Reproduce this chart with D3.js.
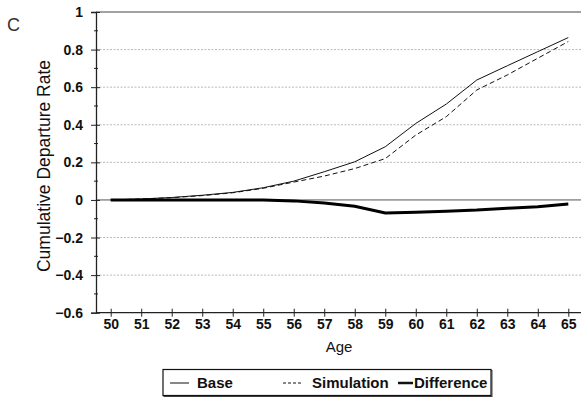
<!DOCTYPE html>
<html>
<head>
<meta charset="utf-8">
<script src="https://cdn.jsdelivr.net/npm/d3@7"></script>
<style>
  body { margin: 0; background: #fff; }
  svg { display: block; font-family: "Liberation Sans", Arial, sans-serif; }
</style>
</head>
<body>
<div id="chart"></div>
<script>
// ages on the x axis
var ages = [50, 51, 52, 53, 54, 55, 56, 57, 58, 59, 60, 61, 62, 63, 64, 65];
// series
var base = [0, 0.005, 0.013, 0.025, 0.04, 0.065, 0.1, 0.15, 0.203, 0.283, 0.407, 0.51, 0.638, 0.714, 0.789, 0.864];
var simulation = [0, 0.005, 0.012, 0.023, 0.038, 0.062, 0.095, 0.127, 0.167, 0.22, 0.345, 0.443, 0.585, 0.665, 0.754, 0.843];
var difference = [0, 0, 0, 0, 0, 0, -0.005, -0.016, -0.034, -0.069, -0.065, -0.06, -0.054, -0.044, -0.036, -0.022];
var yTicks = [-0.6, -0.4, -0.2, 0, 0.2, 0.4, 0.6, 0.8, 1];
var yMinor = [-0.5, -0.3, -0.1, 0.1, 0.3, 0.5, 0.7, 0.9];
var gridValues = [-0.4, -0.2, 0.2, 0.4, 0.6, 0.8];

var W = 581, H = 398;
var margin = { top: 12, right: 0, bottom: 85, left: 96 };

var svg = d3.select("#chart").append("svg")
    .attr("width", W)
    .attr("height", H);

// x is a point scale, half a step of padding on each side
var x = d3.scalePoint()
    .domain(ages)
    .range([110.7, 568.3]);

var y = d3.scaleLinear()
    .domain([-0.6, 1])
    .range([312.7, 12]);

// gridlines
svg.append("g")
    .selectAll("line")
    .data(gridValues)
    .enter().append("line")
    .attr("x1", margin.left)
    .attr("x2", W)
    .attr("y1", d => y(d))
    .attr("y2", d => y(d))
    .attr("stroke", "#a8a8a8")
    .attr("stroke-width", 0.8)
    .attr("stroke-dasharray", "2,1.5");

// zero line and top border
svg.append("line")
    .attr("x1", margin.left).attr("x2", W)
    .attr("y1", y(0)).attr("y2", y(0))
    .attr("stroke", "#555").attr("stroke-width", 1);
svg.append("line")
    .attr("x1", margin.left).attr("x2", W)
    .attr("y1", y(1)).attr("y2", y(1))
    .attr("stroke", "#444").attr("stroke-width", 1);

// Y axis, ticks crossing the line
var yAxis = svg.append("g")
    .attr("transform", "translate(" + margin.left + ",0)")
    .call(d3.axisLeft(y).tickValues(yTicks).tickSize(5)
        .tickFormat(d => d3.format("")(+d.toFixed(1))));
yAxis.select(".domain").attr("stroke", "#222").attr("stroke-width", 1.3);
yAxis.selectAll(".tick line").attr("x2", 4).attr("x1", -5).attr("stroke", "#222");
yAxis.selectAll(".tick text")
    .attr("x", -13)
    .style("font-size", "14px")
    .style("font-weight", "bold")
    .attr("fill", "#111");

svg.append("g")
    .selectAll("line")
    .data(yMinor)
    .enter().append("line")
    .attr("x1", margin.left - 2)
    .attr("x2", margin.left + 2)
    .attr("y1", d => y(d))
    .attr("y2", d => y(d))
    .attr("stroke", "#222");

// X axis
var xAxis = svg.append("g")
    .attr("transform", "translate(0," + y(-0.6) + ")")
    .call(d3.axisBottom(x).tickSize(5).tickSizeOuter(0));
xAxis.select(".domain").attr("d", "M" + margin.left + ",0H" + W).attr("stroke", "#222").attr("stroke-width", 1.3);
xAxis.selectAll(".tick line").attr("y1", -4).attr("y2", 4).attr("stroke", "#222");
xAxis.selectAll(".tick text")
    .attr("y", 6)
    .style("font-size", "14px")
    .style("font-weight", "bold")
    .attr("fill", "#111");

// lines
var line = d3.line()
    .x((d, i) => x(ages[i]))
    .y(d => y(d));

svg.append("path").datum(base)
    .attr("fill", "none").attr("stroke", "#111").attr("stroke-width", 1)
    .attr("d", line);
svg.append("path").datum(simulation)
    .attr("fill", "none").attr("stroke", "#111").attr("stroke-width", 1)
    .attr("stroke-dasharray", "5,3")
    .attr("d", line);
svg.append("path").datum(difference)
    .attr("fill", "none").attr("stroke", "#000").attr("stroke-width", 3)
    .attr("d", line);

// axis titles
svg.append("text")
    .attr("transform", "translate(50,166) rotate(-90)")
    .style("text-anchor", "middle")
    .style("font-size", "17.5px")
    .attr("fill", "#111")
    .text("Cumulative Departure Rate");

svg.append("text")
    .attr("x", 339).attr("y", 352)
    .style("text-anchor", "middle")
    .style("font-size", "15px")
    .attr("fill", "#111")
    .text("Age");

svg.append("text")
    .attr("x", 7).attr("y", 31)
    .style("font-size", "18px")
    .attr("fill", "#333")
    .text("C");

// legend
var legendItems = [
    { name: "Base", width: 1, dash: null, x: 170, len: 19, tx: 197 },
    { name: "Simulation", width: 1, dash: "3,2", x: 283, len: 19, tx: 312 },
    { name: "Difference", width: 2.5, dash: null, x: 398, len: 15, tx: 414 }
];
var legend = svg.append("g").attr("class", "legend");
legend.append("rect")
    .attr("x", 164).attr("y", 370.5)
    .attr("width", 328).attr("height", 26)
    .attr("fill", "none").attr("stroke", "#444").attr("stroke-width", 1);
legend.append("rect")
    .attr("x", 163).attr("y", 369.5)
    .attr("width", 328).attr("height", 26)
    .attr("fill", "#fff").attr("stroke", "#111").attr("stroke-width", 1.2);
legend.selectAll("line")
    .data(legendItems)
    .enter().append("line")
    .attr("x1", d => d.x).attr("x2", d => d.x + d.len)
    .attr("y1", 383).attr("y2", 383)
    .attr("stroke", "#111")
    .attr("stroke-width", d => d.width)
    .attr("stroke-dasharray", d => d.dash);
legend.selectAll("text")
    .data(legendItems)
    .enter().append("text")
    .attr("x", d => d.tx).attr("y", 388)
    .style("font-size", "15px")
    .style("font-weight", "bold")
    .attr("fill", "#111")
    .text(d => d.name);
</script>
</body>
</html>
